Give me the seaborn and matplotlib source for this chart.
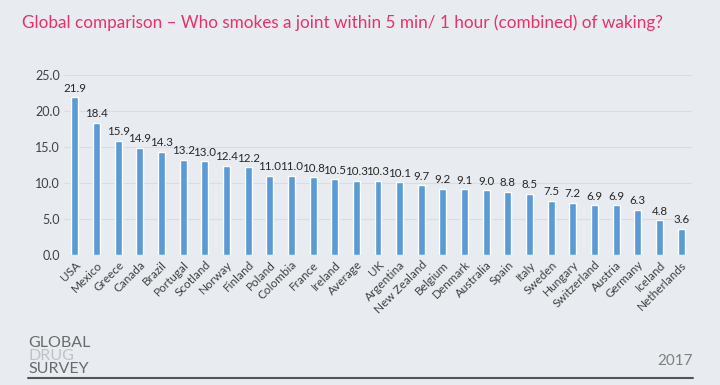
import matplotlib
matplotlib.use("Agg")
import matplotlib.pyplot as plt
import seaborn as sns
import pandas as pd

countries = ["USA", "Mexico", "Greece", "Canada", "Brazil", "Portugal", "Scotland",
             "Norway", "Finland", "Poland", "Colombia", "France", "Ireland", "Average",
             "UK", "Argentina", "New Zealand", "Belgium", "Denmark", "Australia", "Spain",
             "Italy", "Sweden", "Hungary", "Switzerland", "Austria", "Germany", "Iceland",
             "Netherlands"]
values = [21.9, 18.4, 15.9, 14.9, 14.3, 13.2, 13.0, 12.4, 12.2, 11.0, 11.0, 10.8, 10.5,
          10.3, 10.3, 10.1, 9.7, 9.2, 9.1, 9.0, 8.8, 8.5, 7.5, 7.2, 6.9, 6.9, 6.3, 4.8, 3.6]
yticks = [0, 5, 10, 15, 20, 25]

title = "Global comparison \u2013 Who smokes a joint within 5 min/ 1 hour (combined) of waking?"

df = pd.DataFrame({"country": countries, "value": values})

sns.set_theme(style="white")
plt.rcParams["font.family"] = ["Lato", "DejaVu Sans"]
bg = "#E8ECF0"
fig = plt.figure(figsize=(7.2, 3.85), dpi=100, facecolor=bg)
ax = fig.add_axes([0.089, 0.338, 0.872, 0.467])
ax.set_facecolor(bg)

sns.barplot(data=df, x="country", y="value", color="#5B9BD5", width=0.32,
            saturation=1, ax=ax, zorder=3)

ax.set_ylim(0, 25)
ax.set_yticks(yticks)
ax.set_yticklabels([f"{t:.1f}" for t in yticks], fontsize=9, color="#404040")
ax.yaxis.grid(True, color="#D9DDE2", linewidth=0.8, zorder=0)
ax.set_xlim(-0.5, len(countries) - 0.5)
for s in ax.spines.values():
    s.set_visible(False)
ax.tick_params(axis="both", length=0, pad=3)
ax.set_xlabel("")
ax.set_ylabel("")
ax.set_xticks(range(len(countries)))
ax.set_xticklabels(countries, rotation=45, ha="right", rotation_mode="anchor",
                   fontsize=8.5, color="#404040")

for i, v in enumerate(values):
    ax.text(i, v + 0.5, f"{v:.1f}", ha="center", va="bottom", fontsize=8.3,
            color="#262626")

fig.text(0.031, 0.94, title, fontsize=12.3, color="#E8306B", ha="left", va="center")

fig.text(0.039, 0.108, "GLOBAL", fontsize=11.5, color="#6A6A6A", ha="left", va="center")
fig.text(0.039, 0.075, "DRUG", fontsize=11.5, color="#BFC3C7", ha="left", va="center")
fig.text(0.039, 0.042, "SURVEY", fontsize=11.5, color="#6A6A6A", ha="left", va="center")
fig.text(0.962, 0.062, "2017", fontsize=11, color="#808080", ha="right", va="center")
fig.add_artist(plt.Line2D([0.039, 0.962], [0.018, 0.018], color="#555555",
                          linewidth=1.5, transform=fig.transFigure))

fig.savefig("out.png", dpi=100, facecolor=bg)
